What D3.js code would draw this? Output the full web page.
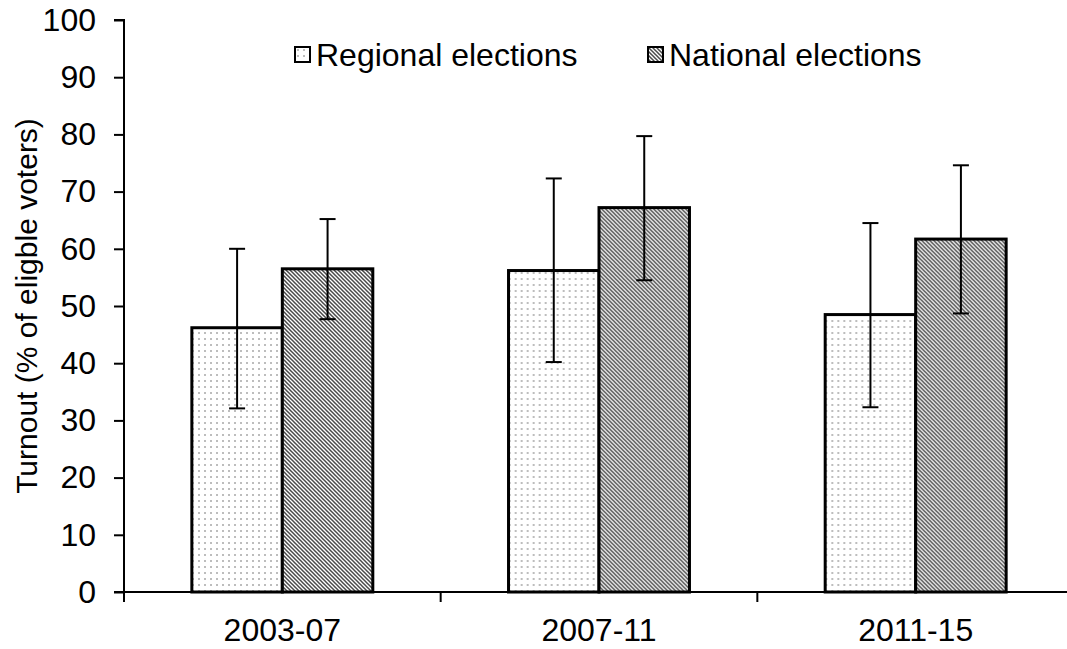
<!DOCTYPE html>
<html>
<head>
<meta charset="utf-8">
<script src="https://cdn.jsdelivr.net/npm/d3@7"></script>
<style>
  html, body { margin: 0; padding: 0; background: #fff; }
  svg { display: block; font-family: "Liberation Sans", Arial, sans-serif; }
</style>
</head>
<body>
<svg id="chart" width="1067" height="649"></svg>
<script>
const categories = ["2003-07", "2007-11", "2011-15"];
const seriesNames = ["Regional elections", "National elections"];
const regionalValues = [46.2, 56.2, 48.5];
const regionalLow = [32.1, 40.2, 32.3];
const regionalHigh = [60.0, 72.3, 64.5];
const nationalValues = [56.5, 67.2, 61.7];
const nationalLow = [47.7, 54.5, 48.7];
const nationalHigh = [65.2, 79.7, 74.6];
const yTicks = [0, 10, 20, 30, 40, 50, 60, 70, 80, 90, 100];
const yTitle = "Turnout (% of eligble voters)";

(function () {
const svg = d3.select("#chart");
const defs = svg.append("defs");

// dotted pattern (regional)
const pDots = defs.append("pattern").attr("id", "dots")
  .attr("patternUnits", "userSpaceOnUse").attr("width", 6).attr("height", 6);
pDots.append("rect").attr("width", 6).attr("height", 6).attr("fill", "#fff");
pDots.append("rect").attr("x", 2).attr("y", 2).attr("width", 2).attr("height", 2).attr("fill", "#bdbdbd");

// diagonal hatch pattern (national)
const pHatch = defs.append("pattern").attr("id", "hatch")
  .attr("patternUnits", "userSpaceOnUse").attr("width", 4).attr("height", 4);
pHatch.append("rect").attr("width", 4).attr("height", 4).attr("fill", "#fff");
pHatch.append("path").attr("d", "M-1,-1 L5,5 M-1,3 L1,5 M3,-1 L5,1")
  .attr("stroke", "#4a4a4a").attr("stroke-width", 1.5);

const fills = ["url(#dots)", "url(#hatch)"];
const fs = 32;

const plotLeft = 124, plotTop = 20, plotBottom = 592;
const bandW = 316.67;
const x = d3.scaleBand().domain(categories).range([plotLeft, plotLeft + bandW * categories.length]).padding(0);
const inner = d3.scaleBand().domain(seriesNames).range([0, bandW]).paddingInner(0).paddingOuter(0.75);
const y = d3.scaleLinear().domain([0, 100]).range([plotBottom, plotTop]);

const data = categories.map((c, i) => ({
  cat: c,
  vals: [
    { s: seriesNames[0], v: regionalValues[i], lo: regionalLow[i], hi: regionalHigh[i] },
    { s: seriesNames[1], v: nationalValues[i], lo: nationalLow[i], hi: nationalHigh[i] }
  ]
}));

// Y axis
const yAxis = d3.axisLeft(y).tickValues(yTicks).tickSize(10).tickPadding(18);
const gy = svg.append("g").attr("transform", `translate(${plotLeft},0)`).call(yAxis);
gy.select(".domain").attr("stroke", "#000").attr("stroke-width", 2).attr("d", `M-10,${plotTop}H0V${plotBottom}`);
gy.selectAll(".tick line").attr("stroke", "#000").attr("stroke-width", 2);
gy.selectAll(".tick text").attr("font-size", fs).attr("fill", "#000")
  .attr("font-family", "Liberation Sans, Arial, sans-serif");

// bars
const groups = svg.append("g").selectAll("g").data(data).join("g")
  .attr("transform", d => `translate(${x(d.cat)},0)`);
groups.selectAll("rect").data(d => d.vals).join("rect")
  .attr("x", d => inner(d.s))
  .attr("y", d => y(d.v))
  .attr("width", inner.bandwidth())
  .attr("height", d => y(0) - y(d.v))
  .attr("fill", (d, i) => fills[i])
  .attr("stroke", "#000").attr("stroke-width", 3);

// error bars
const eb = groups.selectAll("g.err").data(d => d.vals).join("g").attr("class", "err");
eb.append("line")
  .attr("x1", d => inner(d.s) + inner.bandwidth() / 2)
  .attr("x2", d => inner(d.s) + inner.bandwidth() / 2)
  .attr("y1", d => y(d.lo)).attr("y2", d => y(d.hi))
  .attr("stroke", "#000").attr("stroke-width", 2);
["lo", "hi"].forEach(k => {
  eb.append("line")
    .attr("x1", d => inner(d.s) + inner.bandwidth() / 2 - 8)
    .attr("x2", d => inner(d.s) + inner.bandwidth() / 2 + 8)
    .attr("y1", d => y(d[k])).attr("y2", d => y(d[k]))
    .attr("stroke", "#000").attr("stroke-width", 2);
});

// X axis
const gx = svg.append("g").attr("transform", `translate(0,${plotBottom})`);
gx.append("line").attr("x1", plotLeft - 10).attr("x2", 1067).attr("y1", 0).attr("y2", 0)
  .attr("stroke", "#000").attr("stroke-width", 2);
gx.selectAll("line.tk").data(categories).join("line").attr("class", "tk")
  .attr("x1", d => x(d)).attr("x2", d => x(d)).attr("y1", 0).attr("y2", 10)
  .attr("stroke", "#000").attr("stroke-width", 2);
gx.selectAll("text").data(categories).join("text")
  .attr("x", d => x(d) + x.bandwidth() / 2).attr("y", 49)
  .attr("text-anchor", "middle").attr("font-size", fs).attr("fill", "#000")
  .text(d => d);

// Y title
svg.append("text")
  .attr("transform", `translate(37,${(plotTop + plotBottom) / 2}) rotate(-90)`)
  .attr("text-anchor", "middle").attr("font-size", 30).attr("fill", "#000")
  .text(yTitle);

// legend
const legendX = [295, 648];
const lg = svg.append("g").selectAll("g").data(seriesNames).join("g")
  .attr("transform", (d, i) => `translate(${legendX[i]},47)`);
lg.append("rect").attr("width", 15).attr("height", 15)
  .attr("fill", (d, i) => fills[i]).attr("stroke", "#000").attr("stroke-width", 2);
lg.append("text").attr("x", 21).attr("y", 19).attr("font-size", fs).attr("fill", "#000")
  .text(d => d);
})();
</script>
</body>
</html>
